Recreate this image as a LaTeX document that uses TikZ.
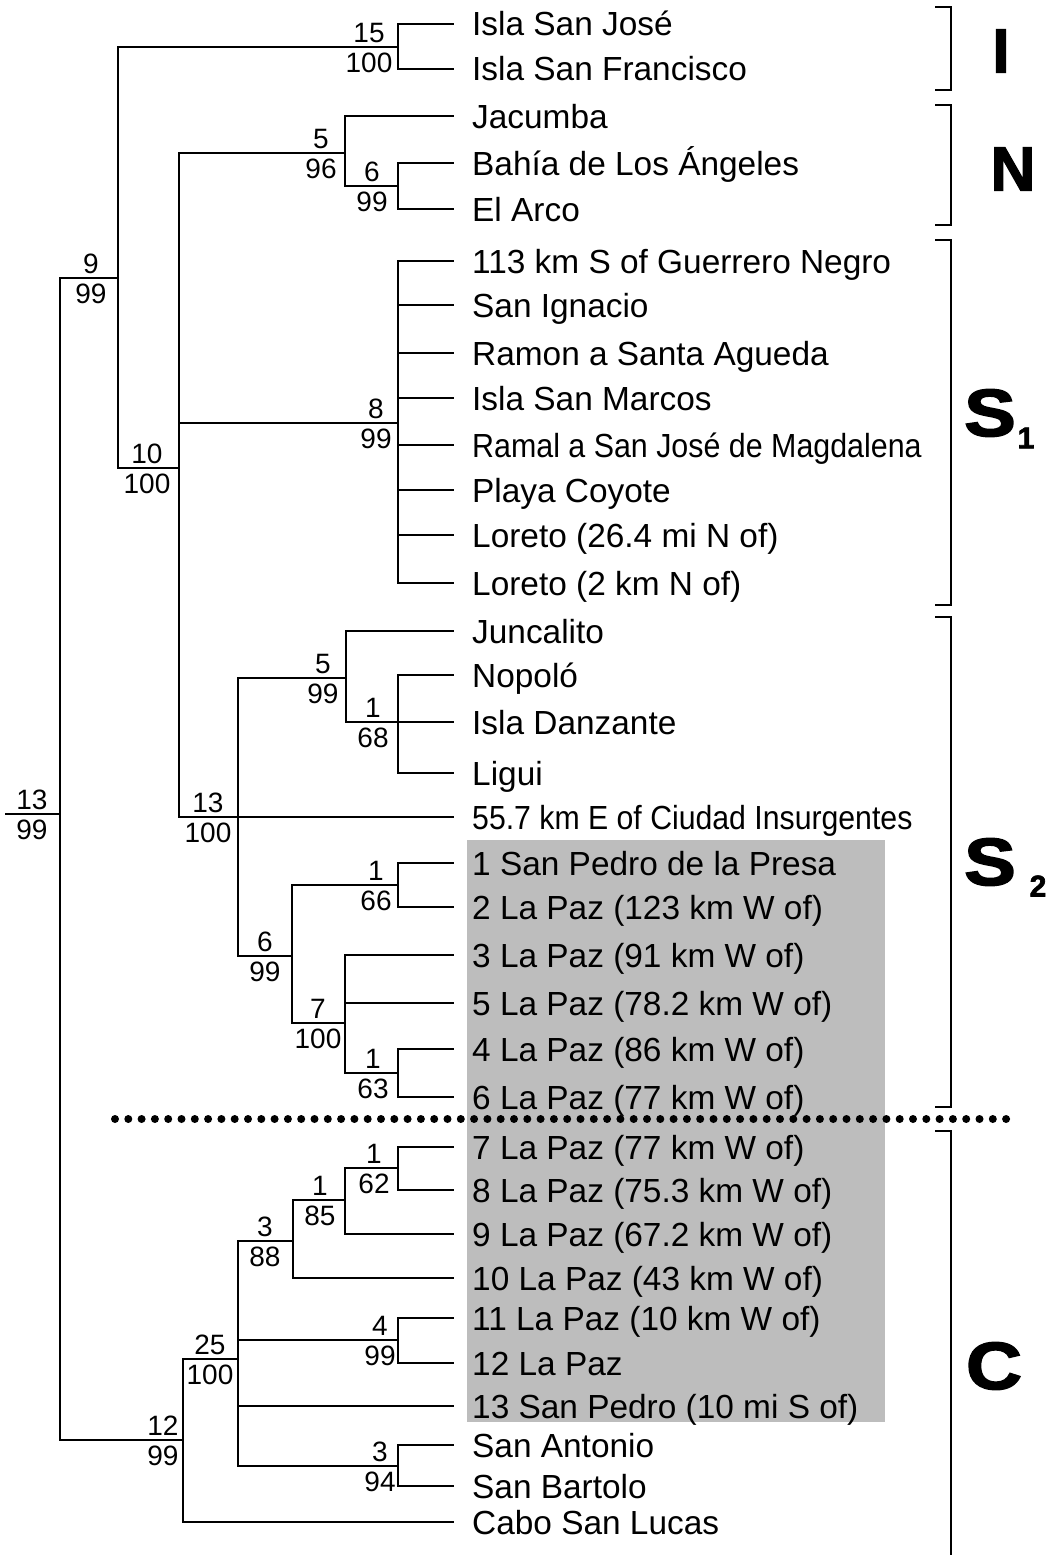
\documentclass[tikz,border=0pt]{standalone}
\usepackage{fontspec}
\usepackage{graphicx}
\setmainfont{Liberation Sans}
\newfontfamily\heavyfont[FakeBold=2.2]{Liberation Sans Bold}
\definecolor{boxgray}{gray}{0.74}
\newcommand\supp[4]{%
  \node[supt] (#1t) at ([xshift=#2pt,yshift=4pt]#1) {#3};
  \node[supb] (#1b) at ([xshift=#2pt,yshift=-6pt]#1) {#4};}
\begin{document}
\begin{tikzpicture}[x=1pt,y=-1pt,
  tree/.style={line width=2.5pt, line cap=rect},
  leaf/.style={anchor=base west, inner sep=0pt, font=\fontsize{33.4}{40}\selectfont},
  supt/.style={anchor=south, inner sep=0pt, font=\fontsize{28}{32}\selectfont},
  supb/.style={anchor=north, inner sep=0pt, font=\fontsize{28}{32}\selectfont},
  grp/.style={inner sep=0pt, font=\fontsize{62}{68}\heavyfont},
  grpsub/.style={inner sep=0pt, font=\fontsize{30}{34}\heavyfont},
  brk/.style={line width=2.5pt},
  dots/.style={line width=8pt, line cap=round, dash pattern=on 0pt off 13.3pt}]
\useasboundingbox (0,0) rectangle (1061,1555);
\fill[boxgray] (467,840) rectangle (885,1422);
% leaves
\foreach \n/\y in {1/24,2/69,3/116,4/163,5/209,6/261,7/305,8/353,9/398,10/445,11/490,12/535,13/583,14/631,15/675,16/722,17/773,18/817,19/863,20/907,21/955,22/1003,23/1049,24/1097,25/1147,26/1190,27/1234,28/1278,29/1318,30/1363,31/1406,32/1445,33/1486,34/1522}
  {\coordinate (L\n) at (453,\y);}
\node[leaf] (T1) at ([xshift=19pt,yshift=-12pt]L1) {Isla San José};
\node[leaf] (T2) at ([xshift=19pt,yshift=-12pt]L2) {Isla San Francisco};
\node[leaf] (T3) at ([xshift=19pt,yshift=-12pt]L3) {Jacumba};
\node[leaf] (T4) at ([xshift=19pt,yshift=-12pt]L4) {Bahía de Los Ángeles};
\node[leaf] (T5) at ([xshift=19pt,yshift=-12pt]L5) {El Arco};
\node[leaf] (T6) at ([xshift=19pt,yshift=-12pt]L6) {113 km S of Guerrero Negro};
\node[leaf] (T7) at ([xshift=19pt,yshift=-12pt]L7) {San Ignacio};
\node[leaf] (T8) at ([xshift=19pt,yshift=-12pt]L8) {Ramon a Santa Agueda};
\node[leaf] (T9) at ([xshift=19pt,yshift=-12pt]L9) {Isla San Marcos};
\node[leaf] (T10) at ([xshift=19pt,yshift=-12pt]L10) {\scalebox{0.91}[1]{Ramal a San José de Magdalena}};
\node[leaf] (T11) at ([xshift=19pt,yshift=-12pt]L11) {Playa Coyote};
\node[leaf] (T12) at ([xshift=19pt,yshift=-12pt]L12) {Loreto (26.4 mi N of)};
\node[leaf] (T13) at ([xshift=19pt,yshift=-12pt]L13) {Loreto (2 km N of)};
\node[leaf] (T14) at ([xshift=19pt,yshift=-12pt]L14) {Juncalito};
\node[leaf] (T15) at ([xshift=19pt,yshift=-12pt]L15) {Nopoló};
\node[leaf] (T16) at ([xshift=19pt,yshift=-12pt]L16) {Isla Danzante};
\node[leaf] (T17) at ([xshift=19pt,yshift=-12pt]L17) {Ligui};
\node[leaf] (T18) at ([xshift=19pt,yshift=-12pt]L18) {\scalebox{0.905}[1]{55.7 km E of Ciudad Insurgentes}};
\node[leaf] (T19) at ([xshift=19pt,yshift=-12pt]L19) {1 San Pedro de la Presa};
\node[leaf] (T20) at ([xshift=19pt,yshift=-12pt]L20) {2 La Paz (123 km W of)};
\node[leaf] (T21) at ([xshift=19pt,yshift=-12pt]L21) {3 La Paz (91 km W of)};
\node[leaf] (T22) at ([xshift=19pt,yshift=-12pt]L22) {5 La Paz (78.2 km W of)};
\node[leaf] (T23) at ([xshift=19pt,yshift=-12pt]L23) {4 La Paz (86 km W of)};
\node[leaf] (T24) at ([xshift=19pt,yshift=-12pt]L24) {6 La Paz (77 km W of)};
\node[leaf] (T25) at ([xshift=19pt,yshift=-12pt]L25) {7 La Paz (77 km W of)};
\node[leaf] (T26) at ([xshift=19pt,yshift=-12pt]L26) {8 La Paz (75.3 km W of)};
\node[leaf] (T27) at ([xshift=19pt,yshift=-12pt]L27) {9 La Paz (67.2 km W of)};
\node[leaf] (T28) at ([xshift=19pt,yshift=-12pt]L28) {10 La Paz (43 km W of)};
\node[leaf] (T29) at ([xshift=19pt,yshift=-12pt]L29) {11 La Paz (10 km W of)};
\node[leaf] (T30) at ([xshift=19pt,yshift=-12pt]L30) {12 La Paz};
\node[leaf] (T31) at ([xshift=19pt,yshift=-12pt]L31) {13 San Pedro (10 mi S of)};
\node[leaf] (T32) at ([xshift=19pt,yshift=-12pt]L32) {San Antonio};
\node[leaf] (T33) at ([xshift=19pt,yshift=-12pt]L33) {San Bartolo};
\node[leaf] (T34) at ([xshift=19pt,yshift=-12pt]L34) {Cabo San Lucas};
% internal nodes
\coordinate (stem) at (6,814);
\coordinate (root) at (60,814);
\coordinate (n9) at (118,278);
\coordinate (n15) at (398,47);
\coordinate (n10) at (179,468);
\coordinate (n5a) at (345,153);
\coordinate (n6a) at (398,186);
\coordinate (n8) at (398,423);
\coordinate (n13b) at (238,817);
\coordinate (n5b) at (346,678);
\coordinate (n1a) at (398,722);
\coordinate (n6b) at (292,956);
\coordinate (n1b) at (398,885);
\coordinate (n7) at (345,1023);
\coordinate (n1c) at (398,1073);
\coordinate (n12) at (183,1440);
\coordinate (n25) at (238,1359);
\coordinate (n3a) at (293,1241);
\coordinate (n1d) at (345,1200);
\coordinate (n1e) at (398,1168);
\coordinate (n4) at (398,1340);
\coordinate (n3b) at (398,1466);
% branches
\draw[tree] (stem) -- (root);
\draw[tree] (n9) -- (root |- n9) -- (root |- n12) -- (n12);
\draw[tree] (n15) -- (n9 |- n15) -- (n9 |- n10) -- (n10);
\draw[tree] (L1) -- (n15 |- L1) -- (n15 |- L2) -- (L2);
\draw[tree] (n5a) -- (n10 |- n5a) -- (n10 |- n13b) -- (n13b);
\draw[tree] (n10 |- n8) -- (n8);
\draw[tree] (L3) -- (n5a |- L3) -- (n5a |- n6a) -- (n6a);
\draw[tree] (L4) -- (n6a |- L4) -- (n6a |- L5) -- (L5);
\draw[tree] (L6) -- (n8 |- L6) -- (n8 |- L13) -- (L13);
\foreach \k in {7,...,12} {\draw[tree] (n8 |- L\k) -- (L\k);}
\draw[tree] (n5b) -- (n13b |- n5b) -- (n13b |- n6b) -- (n6b);
\draw[tree] (n13b) -- (L18);
\draw[tree] (L14) -- (n5b |- L14) -- (n5b |- n1a) -- (n1a);
\draw[tree] (L15) -- (n1a |- L15) -- (n1a |- L17) -- (L17);
\draw[tree] (n1a) -- (L16);
\draw[tree] (n1b) -- (n6b |- n1b) -- (n6b |- n7) -- (n7);
\draw[tree] (L19) -- (n1b |- L19) -- (n1b |- L20) -- (L20);
\draw[tree] (L21) -- (n7 |- L21) -- (n7 |- n1c) -- (n1c);
\draw[tree] (n7 |- L22) -- (L22);
\draw[tree] (L23) -- (n1c |- L23) -- (n1c |- L24) -- (L24);
\draw[tree] (n25) -- (n12 |- n25) -- (n12 |- L34) -- (L34);
\draw[tree] (n3a) -- (n25 |- n3a) -- (n25 |- n3b) -- (n3b);
\draw[tree] (n25 |- n4) -- (n4);
\draw[tree] (n25 |- L31) -- (L31);
\draw[tree] (n1d) -- (n3a |- n1d) -- (n3a |- L28) -- (L28);
\draw[tree] (n1e) -- (n1d |- n1e) -- (n1d |- L27) -- (L27);
\draw[tree] (L25) -- (n1e |- L25) -- (n1e |- L26) -- (L26);
\draw[tree] (L29) -- (n4 |- L29) -- (n4 |- L30) -- (L30);
\draw[tree] (L32) -- (n3b |- L32) -- (n3b |- L33) -- (L33);
% support values
\supp{root}{-28}{13}{99}
\supp{n9}{-27}{9}{99}
\supp{n15}{-29}{15}{100}
\supp{n10}{-32}{10}{100}
\supp{n5a}{-24}{5}{96}
\supp{n6a}{-26}{6}{99}
\supp{n8}{-22}{8}{99}
\supp{n13b}{-30}{13}{100}
\supp{n5b}{-23}{5}{99}
\supp{n1a}{-25}{1}{68}
\supp{n1b}{-22}{1}{66}
\supp{n6b}{-27}{6}{99}
\supp{n7}{-27}{7}{100}
\supp{n1c}{-25}{1}{63}
\supp{n1e}{-24}{1}{62}
\supp{n1d}{-25}{1}{85}
\supp{n3a}{-28}{3}{88}
\supp{n4}{-18}{4}{99}
\supp{n25}{-28}{25}{100}
\supp{n3b}{-18}{3}{94}
\supp{n12}{-20}{12}{99}
% dotted divider
\coordinate (dA) at (115,1119);
\coordinate (dB) at (1010,1119);
\draw[dots] (dA) -- (dB);
% group brackets
\draw[brk] (935,7) -- (951,7) -- (951,90) -- (935,90);
\draw[brk] (935,105) -- (951,105) -- (951,225) -- (935,225);
\draw[brk] (935,240) -- (951,240) -- (951,605) -- (935,605);
\draw[brk] (935,617) -- (951,617) -- (951,1107) -- (935,1107);
\draw[brk] (935,1131) -- (951,1131) -- (951,1555);
\node[grp] (gI) at (1001,51) {I};
\node[grp] (gN) at (1013,169) {N};
\node[grp] (gS1) at (990,413) {\scalebox{1.25}[1.08]{S}};
\node[grpsub] (gS1s) at (1026,438) {1};
\node[grp] (gS2) at (990,862) {\scalebox{1.25}[1.08]{S}};
\node[grpsub] (gS2s) at (1038,886) {2};
\node[grp] (gC) at (994,1366) {\scalebox{1.25}[1.08]{C}};
\end{tikzpicture}
\end{document}
